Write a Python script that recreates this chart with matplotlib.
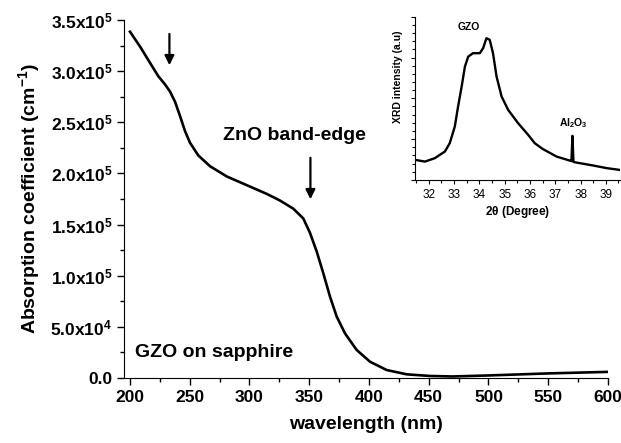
import matplotlib
matplotlib.use('Agg')
import matplotlib.pyplot as plt
from matplotlib.ticker import FuncFormatter, MultipleLocator, AutoMinorLocator
import numpy as np

plt.rcParams['font.family'] = ['Liberation Sans', 'DejaVu Sans']
plt.rcParams['mathtext.fontset'] = 'custom'
plt.rcParams['mathtext.rm'] = 'Liberation Sans'
plt.rcParams['mathtext.bf'] = 'Liberation Sans:bold'
plt.rcParams['mathtext.it'] = 'Liberation Sans:italic'

# absorption spectrum
wavelength = [200, 208.4, 216.8, 223.7, 229.3, 233.5, 237.7, 241.9, 246, 250.2,
              257.2, 267, 281, 297.7, 314.4, 325.5, 336.7, 345, 350.6, 356.3,
              361.8, 367.4, 373, 379.9, 389.7, 400.9, 414.8, 431.6, 451, 470,
              500, 550, 600]
absorption = [3.385e5, 3.24e5, 3.08e5, 2.95e5, 2.87e5, 2.80e5, 2.70e5,
              2.56e5, 2.415e5, 2.30e5, 2.175e5, 2.07e5, 1.97e5, 1.885e5,
              1.80e5, 1.735e5, 1.655e5, 1.56e5, 1.42e5, 1.235e5, 1.023e5,
              0.795e5, 0.60e5, 0.437e5, 0.274e5, 0.159e5, 0.078e5, 0.036e5,
              0.02e5, 0.015e5, 0.025e5, 0.045e5, 0.06e5]

# XRD inset (arbitrary units)
two_theta = [31.45, 31.85, 32.24, 32.64, 32.83, 33.03, 33.16, 33.3, 33.43, 33.56,
             33.75, 34.02, 34.15, 34.28, 34.41, 34.54, 34.68, 34.88, 35.14, 35.53,
             35.93, 36.19, 36.5, 37.05, 37.58, 37.64, 37.68, 37.72, 37.84, 38.5,
             39.03, 39.55]
xrd = [0.123, 0.112, 0.133, 0.174, 0.225, 0.327, 0.45, 0.572, 0.695, 0.756,
       0.777, 0.777, 0.808, 0.869, 0.859, 0.777, 0.634, 0.511, 0.429, 0.348,
       0.276, 0.225, 0.19, 0.143, 0.118, 0.115, 0.27, 0.11, 0.106, 0.088,
       0.072, 0.061]

y_ticks = [0, 0.5e5, 1.0e5, 1.5e5, 2.0e5, 2.5e5, 3.0e5, 3.5e5]


def sci_label(v, pos):
    if v == 0:
        return '0.0'
    e = int(np.floor(np.log10(v)))
    m = v / 10 ** e
    return r'%.1fx10$^{\mathbf{%d}}$' % (m, e)


fig = plt.figure(figsize=(6.21, 4.43), dpi=100)
ax = fig.add_axes([0.1997, 0.1467, 0.7793, 0.8083])
ax.plot(wavelength, absorption, color='black', lw=1.9)
ax.set_xlim(195, 600)
ax.set_ylim(0, 3.5e5)
ax.set_xticks(range(200, 601, 50))
ax.set_yticks(y_ticks)
ax.yaxis.set_major_formatter(FuncFormatter(sci_label))
ax.xaxis.set_minor_locator(AutoMinorLocator(2))
ax.yaxis.set_minor_locator(AutoMinorLocator(2))
ax.spines['top'].set_visible(False)
ax.spines['right'].set_visible(False)
ax.tick_params(which='both', direction='out', width=1.0)
ax.tick_params(which='major', length=5, labelsize=12.5)
ax.tick_params(which='minor', length=3)
for lbl in ax.get_xticklabels() + ax.get_yticklabels():
    lbl.set_fontweight('bold')
ax.set_xlabel('wavelength (nm)', fontsize=14, fontweight='bold', labelpad=8)
ax.set_ylabel(r'Absorption coefficient (cm$^{\mathbf{-1}}$)', fontsize=14,
              fontweight='bold', labelpad=6)

ax.annotate('', xy=(233, 3.03e5), xytext=(233, 3.39e5),
            arrowprops=dict(arrowstyle='-|>', color='black', lw=1.6,
                            mutation_scale=14))
ax.annotate('', xy=(351, 1.72e5), xytext=(351, 2.18e5),
            arrowprops=dict(arrowstyle='-|>', color='black', lw=1.6,
                            mutation_scale=14))
ax.text(338, 2.37e5, 'ZnO band-edge', fontsize=14, fontweight='bold',
        ha='center', va='center')
ax.text(204, 0.25e5, 'GZO on sapphire', fontsize=14, fontweight='bold',
        ha='left', va='center')

# inset
ins = fig.add_axes([0.668, 0.594, 0.33, 0.368])
ins.plot(two_theta, xrd, color='black', lw=1.7)
ins.set_xlim(31.45, 39.55)
ins.set_ylim(0, 1)
ins.set_xticks(range(32, 40))
ins.xaxis.set_minor_locator(AutoMinorLocator(2))
ins.yaxis.set_major_locator(MultipleLocator(0.25))
ins.yaxis.set_minor_locator(AutoMinorLocator(5))
ins.set_yticklabels([])
ins.spines['top'].set_visible(False)
ins.spines['right'].set_visible(False)
ins.tick_params(which='both', direction='out', width=0.8)
ins.tick_params(which='major', length=3, labelsize=8.5)
ins.tick_params(which='minor', length=2)
ins.set_xlabel(r'2$\mathbf{\theta}$ (Degree)', fontsize=8.5, fontweight='bold',
               labelpad=2)
ins.set_ylabel('XRD intensity (a.u)', fontsize=7.5, fontweight='bold')
ins.yaxis.set_label_coords(-0.06, 0.63)
ins.text(33.6, 0.92, 'GZO', fontsize=7.5, fontweight='bold', ha='center')
ins.text(37.7, 0.33, r'Al$_{\mathbf{2}}$O$_{\mathbf{3}}$', fontsize=7.5,
         fontweight='bold', ha='center')

fig.savefig('out.png', dpi=100)
